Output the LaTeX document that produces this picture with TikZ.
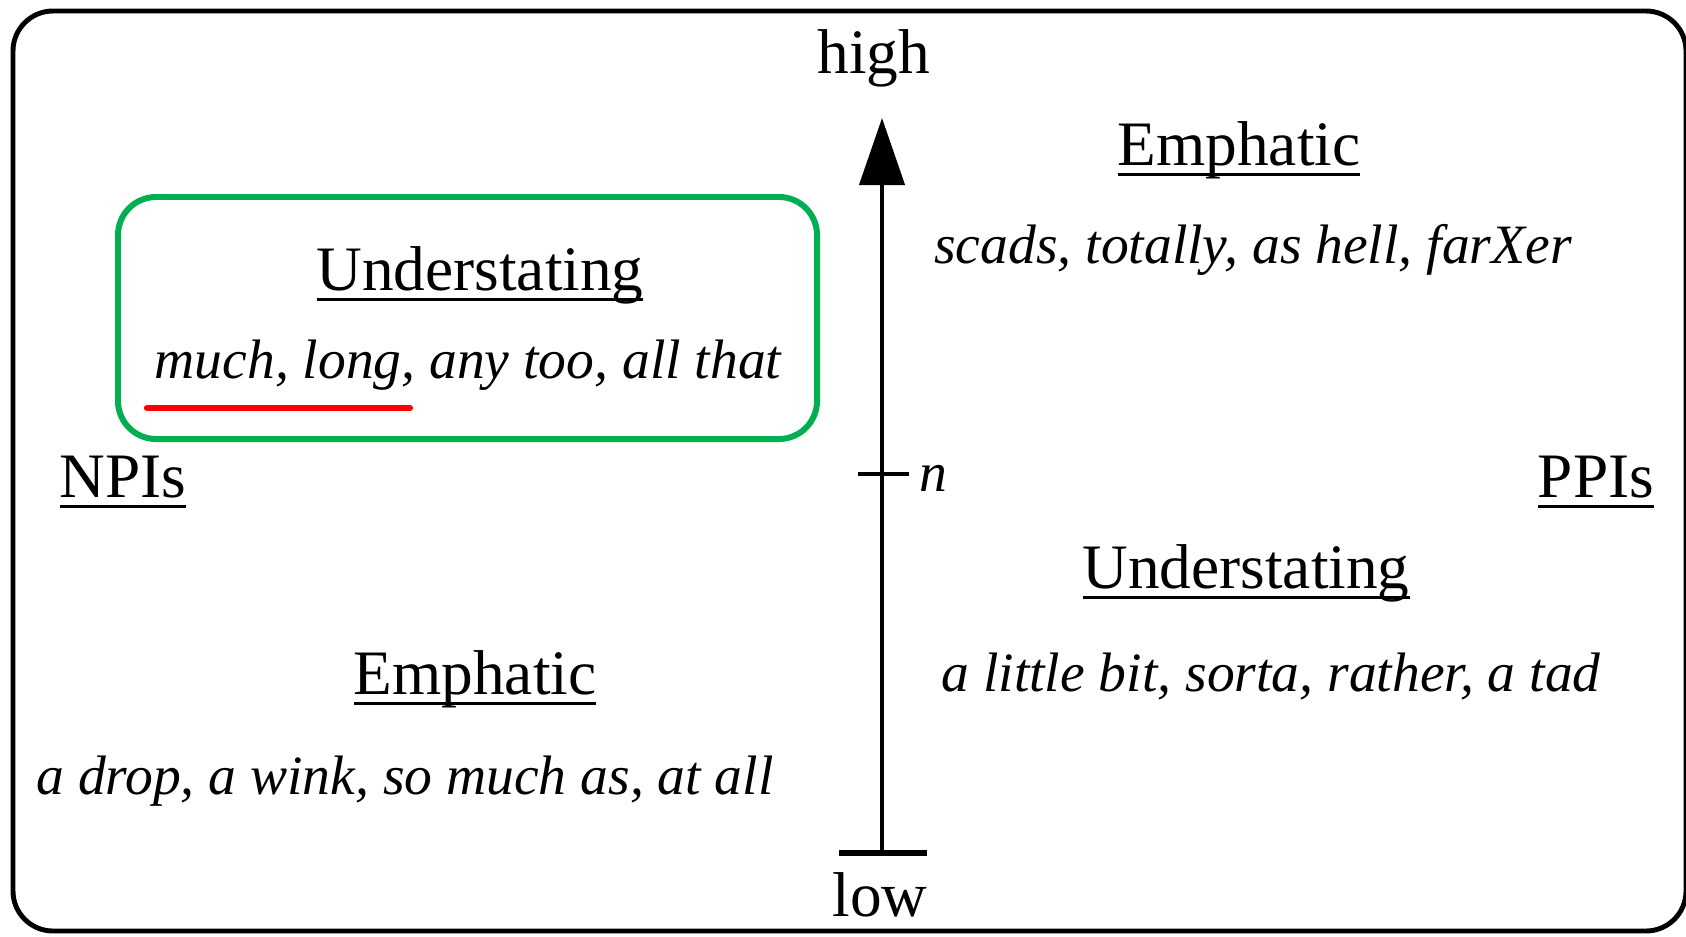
\documentclass[tikz,border=0pt]{standalone}
\usepackage{fontspec}
\setmainfont{Liberation Serif}
\usepackage{tikz}
\usetikzlibrary{arrows.meta}
\usepackage{xcolor}
\definecolor{boxgreen}{RGB}{0,176,80}
\definecolor{markred}{RGB}{255,0,0}
\newcommand{\ulhead}[1]{\vtop{\hbox{\raisebox{0pt}[\height][0pt]{#1}}\kern2.2pt\hrule height0.8pt}}

\tikzset{
  headlabel/.style={anchor=base,inner sep=0pt,font=\fontsize{18}{21}\selectfont},
  itemlabel/.style={anchor=base,inner sep=0pt,font=\fontsize{15.8}{19}\selectfont\itshape},
  axislabel/.style={anchor=base,inner sep=0pt,font=\fontsize{18}{21}\selectfont}
}

\begin{document}
\begin{tikzpicture}[x=0.01cm,y=-0.01cm]
  \useasboundingbox (0,0) rectangle (1686,936);
  % outer frame
  \draw[line width=1.4pt,rounded corners=0.4cm] (13,11) rectangle (1686,931);
  % scale
  \node[axislabel] (high) at (874,73) {high};
  \node[axislabel] (low) at (880,916) {low};
  \coordinate (tip) at (882,118);
  \coordinate (foot) at (882,853);
  \draw[line width=1.2pt,-{Triangle[length=0.67cm,width=0.45cm]}] (foot) -- (tip);
  \draw[line width=1.6pt] (839,853) -- (927,853);
  \draw[line width=1.2pt] (858,474) -- (909,474);
  \node[itemlabel] (n) at (933,491) {n};
  % side labels
  \node[headlabel] (npi) at (123,497) {\ulhead{NPIs}};
  \node[headlabel] (ppi) at (1596,497) {\ulhead{PPIs}};
  % PPIs
  \node[headlabel] (ppiemph) at (1239,165) {\ulhead{Emphatic}};
  \node[itemlabel] (ppiemphx) at (1253,263) {scads, totally, as hell, farXer};
  \node[headlabel] (ppiund) at (1246,588) {\ulhead{Understating}};
  \node[itemlabel] (ppiundx) at (1271,691) {a little bit, sorta, rather, a tad};
  % NPIs
  \node[headlabel] (npiund) at (480,290) {\ulhead{Understating}};
  \node[itemlabel] (npiundx) at (468,378) {much, long, any too, all that};
  \node[headlabel] (npiemph) at (475,694) {\ulhead{Emphatic}};
  \node[itemlabel] (npiemphx) at (405,794) {a drop, a wink, so much as, at all};
  % highlight
  \draw[boxgreen,line width=1.7pt,rounded corners=0.38cm] (118,197) rectangle (817,439);
  \draw[markred,line width=1.8pt,line cap=round] (147,408) -- (410,408);
\end{tikzpicture}
\end{document}
